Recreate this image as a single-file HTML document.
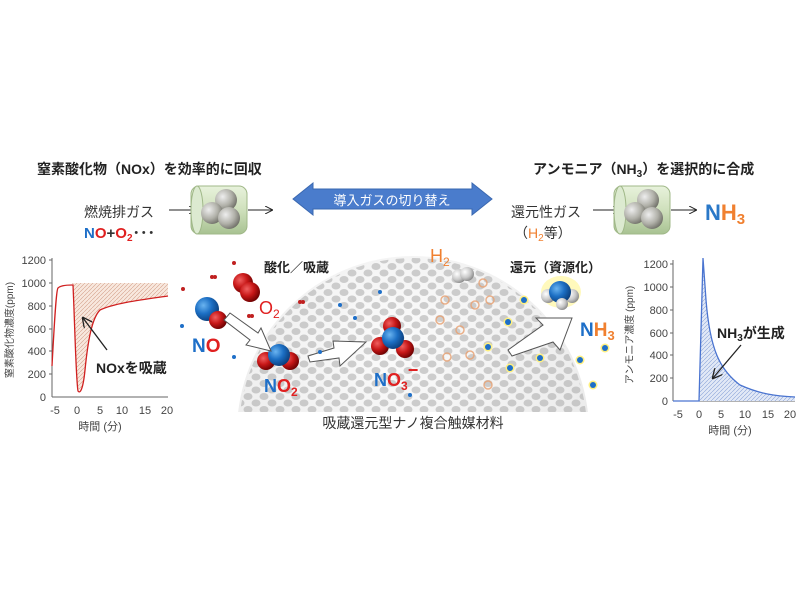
<!DOCTYPE html>
<html><head><meta charset="utf-8"><style>
html,body{margin:0;padding:0;background:#fff;}
svg{display:block;font-family:"Liberation Sans","Noto Sans CJK JP",sans-serif;}
</style></head><body>
<svg width="800" height="600" viewBox="0 0 800 600" xmlns="http://www.w3.org/2000/svg">
<defs>
<radialGradient id="gb" cx="35%" cy="35%" r="70%"><stop offset="0" stop-color="#6ab4f0"/><stop offset="0.5" stop-color="#1c6fc4"/><stop offset="1" stop-color="#0a3d7a"/></radialGradient>
<radialGradient id="gr" cx="35%" cy="35%" r="70%"><stop offset="0" stop-color="#f06060"/><stop offset="0.5" stop-color="#c81818"/><stop offset="1" stop-color="#6a0000"/></radialGradient>
<radialGradient id="gw" cx="35%" cy="35%" r="70%"><stop offset="0" stop-color="#ffffff"/><stop offset="0.6" stop-color="#c8c8c8"/><stop offset="1" stop-color="#888"/></radialGradient>
<radialGradient id="gw2" cx="35%" cy="35%" r="70%"><stop offset="0" stop-color="#eeeeee"/><stop offset="0.6" stop-color="#b0b0a8"/><stop offset="1" stop-color="#707068"/></radialGradient>
<radialGradient id="gs" cx="45%" cy="25%" r="80%"><stop offset="0" stop-color="#fbfbfb"/><stop offset="0.7" stop-color="#ececec"/><stop offset="1" stop-color="#c4c4c4"/></radialGradient>
<linearGradient id="gc" x1="0" y1="0" x2="0" y2="1"><stop offset="0" stop-color="#e8f2dc"/><stop offset="0.5" stop-color="#cfe0bc"/><stop offset="1" stop-color="#a8c292"/></linearGradient>
<pattern id="holes" width="16" height="13" patternUnits="userSpaceOnUse"><ellipse cx="8" cy="6.5" rx="4.5" ry="3.5" fill="#9a9a9a" opacity="0.45"/><ellipse cx="0" cy="0" rx="4.5" ry="3.5" fill="#9a9a9a" opacity="0.45"/><ellipse cx="16" cy="0" rx="4.5" ry="3.5" fill="#9a9a9a" opacity="0.45"/><ellipse cx="0" cy="13" rx="4.5" ry="3.5" fill="#9a9a9a" opacity="0.45"/><ellipse cx="16" cy="13" rx="4.5" ry="3.5" fill="#9a9a9a" opacity="0.45"/></pattern>
<pattern id="hatchR" width="4" height="4" patternUnits="userSpaceOnUse"><rect width="4" height="4" fill="#f8e8de"/><path d="M0 4L4 0" stroke="#d4a08a" stroke-width="0.6"/></pattern>
<pattern id="hatchB" width="4" height="4" patternUnits="userSpaceOnUse"><rect width="4" height="4" fill="#e2e9f6"/><path d="M0 4L4 0" stroke="#8aa4d8" stroke-width="0.6"/></pattern>
<clipPath id="domeclip"><rect x="0" y="0" width="800" height="412"/></clipPath>
<marker id="ah" markerWidth="8" markerHeight="8" refX="7" refY="4" orient="auto"><path d="M0 0L8 4L0 8" fill="none" stroke="#222" stroke-width="1"/></marker>
</defs>

<text x="37" y="174" font-size="14" font-weight="bold" fill="#222">窒素酸化物（NOx）を効率的に回収</text>
<text x="533" y="174" font-size="14" font-weight="bold" fill="#222">アンモニア（NH<tspan font-size="10" dy="3">3</tspan><tspan dy="-3">）を選択的に合成</tspan></text>

<text x="84" y="217" font-size="14" fill="#333">燃焼排ガス</text>
<text x="84" y="238" font-size="15" font-weight="bold"><tspan fill="#1e6fc8">N</tspan><tspan fill="#e02020">O</tspan><tspan fill="#333">+</tspan><tspan fill="#e02020">O</tspan><tspan fill="#e02020" font-size="10" dy="3">2</tspan><tspan fill="#333" dy="-3">･･･</tspan></text>
<line x1="169" y1="210" x2="196" y2="210" stroke="#222" marker-end="url(#ah)"/>
<rect x="191" y="186" width="56" height="48" rx="8" fill="url(#gc)" stroke="#a0b888"/>
<ellipse cx="197" cy="210" rx="6" ry="24" fill="#dcead0" stroke="#a0b888"/>
<circle cx="226" cy="200" r="11" fill="url(#gw2)"/><circle cx="212" cy="213" r="11" fill="url(#gw2)"/><circle cx="229" cy="218" r="11" fill="url(#gw2)"/>
<line x1="248" y1="210" x2="272" y2="210" stroke="#222" marker-end="url(#ah)"/>

<path d="M293 199 L313 183 L313 189 L472 189 L472 183 L492 199 L472 215 L472 209 L313 209 L313 215 Z" fill="#4a7ccc" stroke="#3a68b0"/>
<text x="392" y="205" font-size="13" fill="#fff" text-anchor="middle">導入ガスの切り替え</text>

<text x="511" y="217" font-size="14" fill="#333">還元性ガス</text>
<text x="514" y="238" font-size="14" fill="#333">（<tspan fill="#f08030">H</tspan><tspan fill="#f08030" font-size="10" dy="3">2</tspan><tspan dy="-3">等）</tspan></text>
<line x1="593" y1="210" x2="620" y2="210" stroke="#222" marker-end="url(#ah)"/>
<rect x="614" y="186" width="56" height="48" rx="8" fill="url(#gc)" stroke="#a0b888"/>
<ellipse cx="620" cy="210" rx="6" ry="24" fill="#dcead0" stroke="#a0b888"/>
<circle cx="648" cy="200" r="11" fill="url(#gw2)"/><circle cx="635" cy="213" r="11" fill="url(#gw2)"/><circle cx="652" cy="218" r="11" fill="url(#gw2)"/>
<line x1="671" y1="210" x2="696" y2="210" stroke="#222" marker-end="url(#ah)"/>
<text x="705" y="220" font-size="22" font-weight="bold"><tspan fill="#2a78c8">N</tspan><tspan fill="#f08030">H</tspan><tspan fill="#f08030" font-size="15" dy="4">3</tspan></text>

<g font-size="11" fill="#444">
<line x1="52" y1="258" x2="52" y2="397" stroke="#666"/>
<line x1="52" y1="397" x2="168" y2="397" stroke="#666"/>
<g text-anchor="end">
<text x="46" y="264">1200</text><text x="46" y="287">1000</text><text x="46" y="310">800</text><text x="46" y="333">600</text><text x="46" y="355">400</text><text x="46" y="378">200</text><text x="46" y="401">0</text></g>
<g stroke="#666"><line x1="49" y1="260" x2="52" y2="260"/><line x1="49" y1="283" x2="52" y2="283"/><line x1="49" y1="306" x2="52" y2="306"/><line x1="49" y1="329" x2="52" y2="329"/><line x1="49" y1="351" x2="52" y2="351"/><line x1="49" y1="374" x2="52" y2="374"/></g>
<g text-anchor="middle"><text x="55" y="414">-5</text><text x="77" y="414">0</text><text x="100" y="414">5</text><text x="122" y="414">10</text><text x="145" y="414">15</text><text x="167" y="414">20</text></g>
<text x="100" y="430" text-anchor="middle" font-size="11">時間 (分)</text>
<text transform="translate(13,330) rotate(-90)" text-anchor="middle" font-size="10">窒素酸化物濃度(ppm)</text>
</g>
<path d="M72 283 L168 283 L168 296 C140 300 115 303 100 310 C92 318 88 340 85 370 C83 390 80 392 78 388 C76 370 75 320 73 285 Z" fill="url(#hatchR)"/>
<path d="M52 366 C54 330 56 290 58 288 C60 286 64 285 72 285 L73 285 C75 330 76 380 78 391 C80 394 83 390 85 370 C88 340 92 318 100 310 C115 303 140 300 168 296" fill="none" stroke="#d02020" stroke-width="1.3"/>
<line x1="107" y1="350" x2="83" y2="318" stroke="#222" stroke-width="1.3" marker-end="url(#ah)"/>
<text x="96" y="373" font-size="14" font-weight="bold" fill="#222">NOxを吸蔵</text>

<g font-size="11" fill="#444">
<line x1="673" y1="260" x2="673" y2="401" stroke="#666"/>
<line x1="673" y1="401" x2="795" y2="401" stroke="#666"/>
<g text-anchor="end"><text x="668" y="268">1200</text><text x="668" y="291">1000</text><text x="668" y="314">800</text><text x="668" y="337">600</text><text x="668" y="359">400</text><text x="668" y="382">200</text><text x="668" y="405">0</text></g>
<g stroke="#666"><line x1="670" y1="264" x2="673" y2="264"/><line x1="670" y1="287" x2="673" y2="287"/><line x1="670" y1="310" x2="673" y2="310"/><line x1="670" y1="333" x2="673" y2="333"/><line x1="670" y1="355" x2="673" y2="355"/><line x1="670" y1="378" x2="673" y2="378"/></g>
<g text-anchor="middle"><text x="678" y="418">-5</text><text x="699" y="418">0</text><text x="721" y="418">5</text><text x="745" y="418">10</text><text x="768" y="418">15</text><text x="790" y="418">20</text></g>
<text x="730" y="434" text-anchor="middle">時間 (分)</text>
<text transform="translate(633,335) rotate(-90)" text-anchor="middle" font-size="10">アンモニア濃度 (ppm)</text>
</g>
<path d="M699 401 L701 330 L703 258 L706 300 C710 350 720 370 740 385 C760 394 775 396 795 397 L795 401 Z" fill="url(#hatchB)"/>
<path d="M673 401 L699 401 L701 330 L703 258 L706 300 C710 350 720 370 740 385 C760 394 775 396 795 397" fill="none" stroke="#4a74d0" stroke-width="1.3"/>
<line x1="741" y1="345" x2="713" y2="378" stroke="#222" stroke-width="1.3" marker-end="url(#ah)"/>
<text x="717" y="338" font-size="14" font-weight="bold" fill="#222">NH<tspan font-size="10" dy="3">3</tspan><tspan dy="-3">が生成</tspan></text>

<g clip-path="url(#domeclip)">
<circle cx="413" cy="432" r="176" fill="url(#gs)"/>
<circle cx="413" cy="432" r="174" fill="url(#holes)"/>
</g>
<text x="413" y="428" font-size="14" fill="#333" text-anchor="middle">吸蔵還元型ナノ複合触媒材料</text>

<text x="264" y="272" font-size="13" font-weight="bold" fill="#222">酸化／吸蔵</text>
<text x="510" y="272" font-size="13" font-weight="bold" fill="#222">還元（資源化）</text>
<text x="430" y="262" font-size="18" fill="#f08030">H<tspan font-size="12" dy="4">2</tspan></text>
<circle cx="459" cy="276" r="7" fill="url(#gw)"/><circle cx="467" cy="274" r="7" fill="url(#gw)"/>

<circle cx="243" cy="283" r="10" fill="url(#gr)"/><circle cx="250" cy="292" r="10" fill="url(#gr)"/>
<text x="259" y="314" font-size="18" fill="#e02020">O<tspan font-size="12" dy="4">2</tspan></text>
<circle cx="207" cy="309" r="12" fill="url(#gb)"/><circle cx="218" cy="320" r="9" fill="url(#gr)"/>
<text x="192" y="352" font-size="19" font-weight="bold"><tspan fill="#1e6fc8">N</tspan><tspan fill="#e02020">O</tspan></text>
<circle cx="266" cy="361" r="9" fill="url(#gr)"/><circle cx="290" cy="361" r="9" fill="url(#gr)"/><circle cx="279" cy="355" r="11" fill="url(#gb)"/>
<text x="264" y="392" font-size="18" font-weight="bold"><tspan fill="#1e6fc8">N</tspan><tspan fill="#e02020">O</tspan><tspan fill="#e02020" font-size="12" dy="4">2</tspan></text>
<circle cx="392" cy="326" r="9" fill="url(#gr)"/><circle cx="380" cy="346" r="9" fill="url(#gr)"/><circle cx="405" cy="349" r="9" fill="url(#gr)"/><circle cx="393" cy="338" r="11" fill="url(#gb)"/>
<text x="374" y="386" font-size="18" font-weight="bold"><tspan fill="#1e6fc8">N</tspan><tspan fill="#e02020">O</tspan><tspan fill="#e02020" font-size="12" dy="4">3</tspan><tspan fill="#e02020" dy="-14">−</tspan></text>
<ellipse cx="561" cy="292" rx="20" ry="16" fill="#fff6a0" opacity="0.7"/>
<circle cx="548" cy="296" r="7" fill="url(#gw)"/><circle cx="572" cy="296" r="7" fill="url(#gw)"/><circle cx="560" cy="292" r="11" fill="url(#gb)"/><circle cx="562" cy="304" r="6" fill="url(#gw)"/>
<text x="580" y="336" font-size="19" font-weight="bold"><tspan fill="#1e6fc8">N</tspan><tspan fill="#f08030">H</tspan><tspan fill="#f08030" font-size="13" dy="4">3</tspan></text>

<path d="M230 313 L258 333 L261 328 L271 351 L246 345 L250 340 L224 320 Z" fill="#fff" stroke="#555"/>
<path d="M308 356 L334 348 L333 341 L366 342 L340 366 L339 358 L310 362 Z" fill="#fff" stroke="#555"/>
<path d="M508 350 L543 325 L536 318 L572 318 L560 350 L553 342 L512 356 Z" fill="#fff" stroke="#555"/>

<g fill="#c02020">
<circle cx="212" cy="277" r="2"/><circle cx="215" cy="277" r="2"/><circle cx="183" cy="289" r="2"/><circle cx="300" cy="302" r="2"/><circle cx="303" cy="302" r="2"/><circle cx="249" cy="316" r="2"/><circle cx="252" cy="316" r="2"/><circle cx="234" cy="263" r="2"/></g>
<g fill="#1e6fc8"><circle cx="182" cy="326" r="2"/><circle cx="234" cy="357" r="2"/><circle cx="380" cy="292" r="2"/><circle cx="340" cy="305" r="2"/><circle cx="355" cy="318" r="2"/><circle cx="320" cy="352" r="2"/><circle cx="410" cy="395" r="2"/></g>
<g fill="none" stroke="#e8a070" stroke-width="1.5" opacity="0.8">
<circle cx="483" cy="283" r="4"/><circle cx="445" cy="300" r="4"/><circle cx="475" cy="305" r="4"/><circle cx="440" cy="320" r="4"/><circle cx="460" cy="330" r="4"/><circle cx="470" cy="355" r="4"/><circle cx="447" cy="357" r="4"/><circle cx="490" cy="300" r="4"/><circle cx="488" cy="385" r="4"/></g>
<g fill="#1e6fc8" stroke="#fff080" stroke-width="3" paint-order="stroke">
<circle cx="524" cy="300" r="3"/><circle cx="508" cy="322" r="3"/><circle cx="488" cy="347" r="3"/><circle cx="510" cy="368" r="3"/><circle cx="540" cy="358" r="3"/><circle cx="580" cy="360" r="3"/><circle cx="605" cy="348" r="3"/><circle cx="593" cy="385" r="3"/></g>
</svg>
</body></html>
